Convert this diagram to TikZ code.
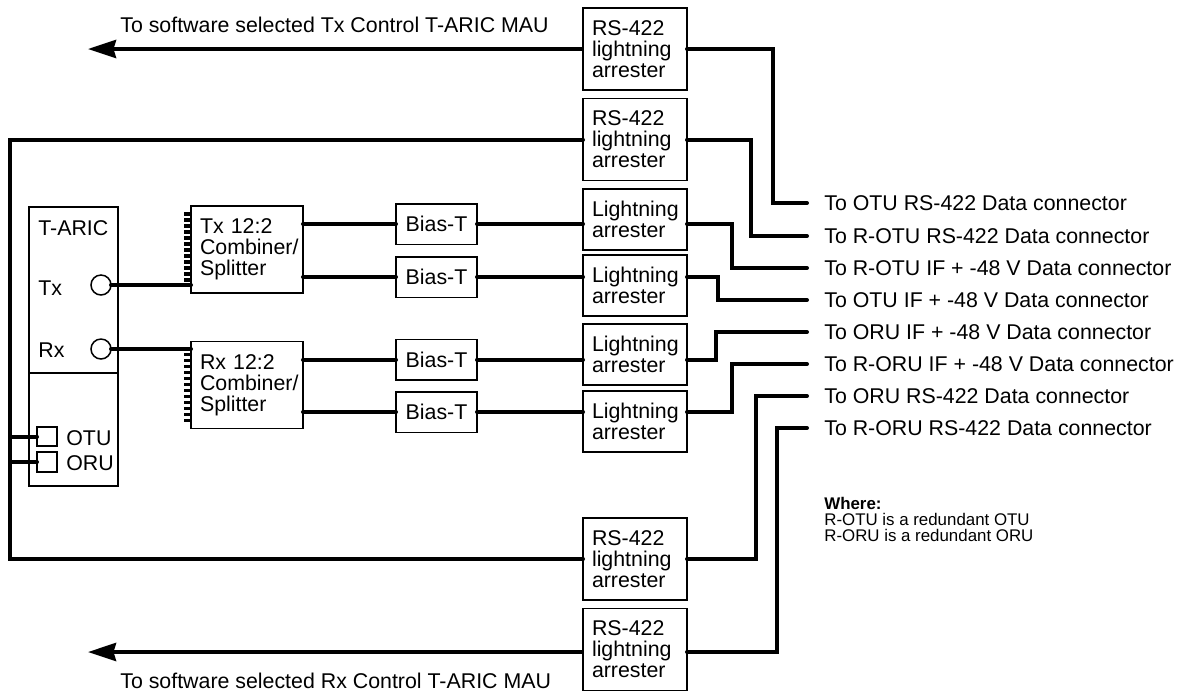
\documentclass[tikz,border=0pt]{standalone}
\usepackage{fontspec}
\setmainfont{Liberation Sans}
\usetikzlibrary{arrows.meta}
\newcommand{\nohyph}{\hyphenpenalty=10000\relax}
\tikzset{
  labelfont/.style={font=\fontsize{12.15pt}{12pt}\selectfont\nohyph},
  box/.style={draw, line width=0.03cm, fill=white, outer sep=0pt, labelfont},
  arrester/.style={box, minimum width=2.08cm, inner xsep=0.18cm, text width=1.72cm, align=left},
  combiner/.style={box, minimum width=2.24cm, minimum height=1.74cm, inner xsep=0.18cm, text width=1.88cm, align=left},
  biast/.style={box, minimum width=1.62cm, minimum height=0.81cm, inner sep=0pt},
  port/.style={draw, line width=0.03cm, fill=white, outer sep=0pt, inner sep=0pt},
  tag/.style={labelfont, inner xsep=0pt, inner ysep=0pt, anchor=west},
  dest/.style={labelfont, anchor=west, inner ysep=0pt, inner xsep=0.34cm, text height=8.5pt, text depth=0pt},
  wire/.style={line width=0.08cm, line cap=round, line join=miter},
  pin/.style={line width=0.065cm},
  tolink/.style={line width=0.08cm, -{Stealth[length=0.56cm,width=0.36cm,inset=0.05cm]}}
}
\begin{document}
\begin{tikzpicture}[x=0.02cm, y=-0.02cm]
  \useasboundingbox (0,0) rectangle (1182,691);

  % free ends
  \coordinate (rail) at (10,300);
  \coordinate (txend) at (88,49);
  \coordinate (rxend) at (88,652);

  % connector side
  \node[dest] (totu)   at (807,203) {To OTU RS-422 Data connector};
  \node[dest] (trotu)  at (807,236) {To R-OTU RS-422 Data connector};
  \node[dest] (troif)  at (807,268) {To R-OTU IF + -48 V Data connector};
  \node[dest] (toif)   at (807,300) {To OTU IF + -48 V Data connector};
  \node[dest] (tuif)   at (807,332) {To ORU IF + -48 V Data connector};
  \node[dest] (truif)  at (807,364) {To R-ORU IF + -48 V Data connector};
  \node[dest] (toru)   at (807,396) {To ORU RS-422 Data connector};
  \node[dest] (troru)  at (807,428) {To R-ORU RS-422 Data connector};

  % T-ARIC unit
  \node[port, minimum width=1.78cm, minimum height=3.32cm] (aric) at (73.5,290) {};
  \node[port, minimum width=1.78cm, minimum height=2.26cm] (aricb) at (73.5,429.5) {};
  \node[tag] (arictxt) at (38,228) {T-ARIC};
  \node[tag] (txtxt) at (38,288) {Tx};
  \node[tag] (rxtxt) at (38,350) {Rx};
  \node[tag] (otutxt) at (66,438) {OTU};
  \node[tag] (orutxt) at (66,463) {ORU};

  % combiners, bias-T, arresters
  \node[combiner] (comb1) at (247,249.5) {Tx 12:2\\Combiner/\\Splitter};
  \node[combiner] (comb2) at (247,385) {Rx 12:2\\Combiner/\\Splitter};
  \node[biast] (bias1) at (436.5,224) {Bias-T};
  \node[biast] (bias2) at (436.5,277) {Bias-T};
  \node[biast] (bias3) at (436.5,359.5) {Bias-T};
  \node[biast] (bias4) at (436.5,412) {Bias-T};
  \foreach \n/\y in {arr1/219.5, arr2/285.5, arr3/354.5, arr4/421.5}
    \node[arrester, minimum height=1.22cm] (\n) at (635,\y) {Lightning\\arrester};
  \foreach \n/\y in {rs1/49, rs2/139.5, rs3/559, rs4/649.5}
    \node[arrester, minimum height=1.64cm] (\n) at (635,\y) {RS-422\\lightning\\arrester};

  \node[tag] (txmau) at (120,25) {To software selected Tx Control T-ARIC MAU};
  \node[tag] (rxmau) at (120,681) {To software selected Rx Control T-ARIC MAU};
  \node[anchor=north west, inner sep=0pt, align=left, font=\fontsize{9.6pt}{9pt}\selectfont] (where) at (824,497) {\textbf{Where:}\\R-OTU is a redundant OTU\\R-ORU is a redundant ORU};

  % ports on the unit
  \node[port, minimum width=0.4cm, minimum height=0.38cm] (otu) at (47,436.5) {};
  \node[port, minimum width=0.4cm, minimum height=0.4cm] (oru) at (47,462) {};
  \node[port, circle, minimum size=0.4cm] (tx) at (101,285) {};
  \node[port, circle, minimum size=0.4cm] (rx) at (101,349) {};

  % pins
  \foreach \i in {0,...,11} {
    \draw[pin] (comb1.north west) ++(0,{8+6*\i}) -- ++(-7,0);
    \draw[pin] (comb2.north west) ++(0,{13+6*\i}) -- ++(-7,0);
  }

  % wires
  \draw[wire] (tx.east) -- (tx.east -| comb1.west);
  \draw[wire] (rx.east) -- (rx.east -| comb2.west);
  \foreach \c/\n in {comb1/bias1, comb1/bias2, comb2/bias3, comb2/bias4}
    \draw[wire] (\n.west -| \c.east) -- (\n.west);
  \foreach \n/\a in {bias1/arr1, bias2/arr2, bias3/arr3, bias4/arr4}
    \draw[wire] (\n.east) -- (\n.east -| \a.west);
  \draw[wire] (bias1.east -| arr1.east) -- ++(45,0) |- (troif.west);
  \draw[wire] (bias2.east -| arr2.east) -- ++(31,0) |- (toif.west);
  \draw[wire] (bias3.east -| arr3.east) -- ++(29,0) |- (tuif.west);
  \draw[wire] (bias4.east -| arr4.east) -- ++(45,0) |- (truif.west);
  \draw[wire] (rs1.east) -- ++(86,0) |- (totu.west);
  \draw[wire] (rs2.east) -- ++(64,0) |- (trotu.west);
  \draw[wire] (rs3.east) -- ++(69,0) |- (toru.west);
  \draw[wire] (rxend -| rs4.east) -- ++(90,0) |- (troru.west);
  \draw[wire] (rs2.west) -| (rail) |- (otu.west);
  \draw[wire] (rs3.west) -| (rail) |- (oru.west);
  \draw[tolink] (rs1.west) -- (txend);
  \draw[tolink] (rxend -| rs4.west) -- (rxend);
\end{tikzpicture}
\end{document}
